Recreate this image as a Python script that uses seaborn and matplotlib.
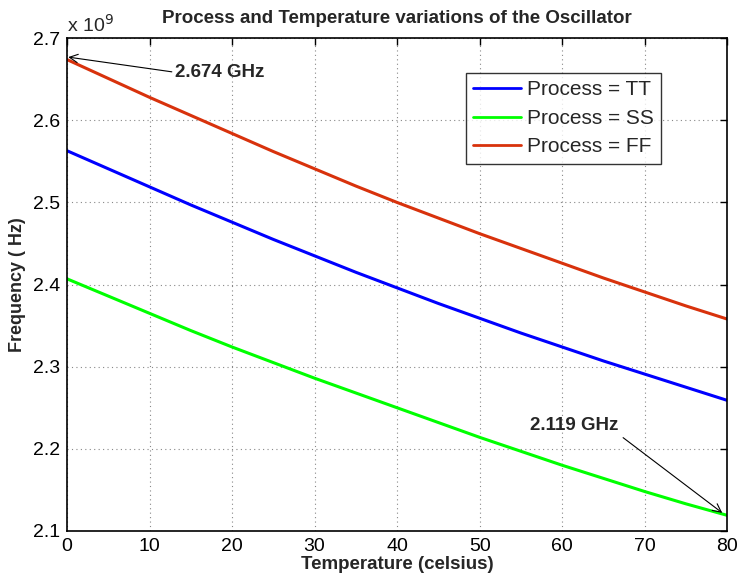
import numpy as np
import pandas as pd
import matplotlib
matplotlib.use("Agg")
import matplotlib.pyplot as plt
import seaborn as sns
from matplotlib.ticker import FuncFormatter

temperature = [0, 5, 10, 15, 20, 25, 30, 35, 40, 45, 50, 55, 60, 65, 70, 75, 80]
freq_tt = [2.563, 2.541, 2.519, 2.497, 2.476, 2.455, 2.435, 2.415, 2.396,
           2.377, 2.359, 2.341, 2.324, 2.307, 2.291, 2.275, 2.259]
freq_ss = [2.407, 2.386, 2.365, 2.344, 2.324, 2.305, 2.286, 2.268, 2.250,
           2.232, 2.214, 2.197, 2.180, 2.164, 2.148, 2.133, 2.119]
freq_ff = [2.674, 2.651, 2.628, 2.606, 2.584, 2.562, 2.541, 2.520, 2.500,
           2.481, 2.462, 2.444, 2.426, 2.408, 2.391, 2.374, 2.358]
labels = ["Process = TT", "Process = SS", "Process = FF"]
colors = ["#0000ff", "#00ff00", "#d8320c"]

rows = []
for lab, vals in zip(labels, [freq_tt, freq_ss, freq_ff]):
    for t, v in zip(temperature, vals):
        rows.append({"Temperature": t, "Frequency": v * 1e9, "Process": lab})
df = pd.DataFrame(rows)

sns.set_style("white")
plt.rcParams["font.family"] = ["Liberation Sans", "DejaVu Sans"]

fig = plt.figure(figsize=(7.41, 5.79), dpi=100)
ax = fig.add_axes([0.0904, 0.083, 0.891, 0.851])

sns.lineplot(data=df, x="Temperature", y="Frequency", hue="Process",
             palette=colors, linewidth=2.2, ax=ax, legend=True)

ax.set_xlim(0, 80)
ax.set_ylim(2.1e9, 2.7e9)
ax.set_xticks(np.arange(0, 81, 10))
ax.set_yticks(np.arange(2.1e9, 2.71e9, 0.1e9))
ax.yaxis.set_major_formatter(FuncFormatter(lambda v, p: f"{v/1e9:.1f}"))
ax.tick_params(direction="in", length=5, labelsize=14, width=1, colors="black",
               top=True, right=True, pad=5)
ax.grid(True, linestyle=(0, (1, 3)), color="#888888", linewidth=0.8)
for s in ax.spines.values():
    s.set_color("black")
    s.set_linewidth(1.2)

ax.set_xlabel("Temperature (celsius)", fontsize=13.5, fontweight="bold", labelpad=1)
ax.set_ylabel("Frequency ( Hz)", fontsize=13, fontweight="bold", labelpad=5)
ax.set_title("Process and Temperature variations of the Oscillator",
             fontsize=13.5, fontweight="bold", pad=11)
ax.text(0.0, 1.005, r"x 10$^9$", transform=ax.transAxes, fontsize=14,
        ha="left", va="bottom")

leg = ax.legend(loc="upper right", bbox_to_anchor=(0.9, 0.929), fontsize=15,
                frameon=True, fancybox=False, edgecolor="black",
                handlelength=2.3, borderpad=0.35, labelspacing=0.45,
                handletextpad=0.3, borderaxespad=0)
leg.get_frame().set_linewidth(1.0)
for l in leg.get_lines():
    l.set_linewidth(2)

ax.annotate("2.674 GHz", xy=(0.15, 2.677e9), xytext=(13.1, 2.6585e9),
            fontsize=13.5, fontweight="bold", ha="left", va="center",
            arrowprops=dict(arrowstyle="->", color="black", lw=0.8,
                            mutation_scale=15, shrinkA=0, shrinkB=0,
                            relpos=(0.0, 0.5)))
ax.annotate("2.119 GHz", xy=(79.4, 2.122e9), xytext=(61.5, 2.228e9),
            fontsize=13.5, fontweight="bold", ha="center", va="center",
            arrowprops=dict(arrowstyle="->", color="black", lw=0.8,
                            mutation_scale=15, shrinkA=1, shrinkB=0,
                            relpos=(1.0, 0.0)))

fig.savefig("out.png", dpi=100)
